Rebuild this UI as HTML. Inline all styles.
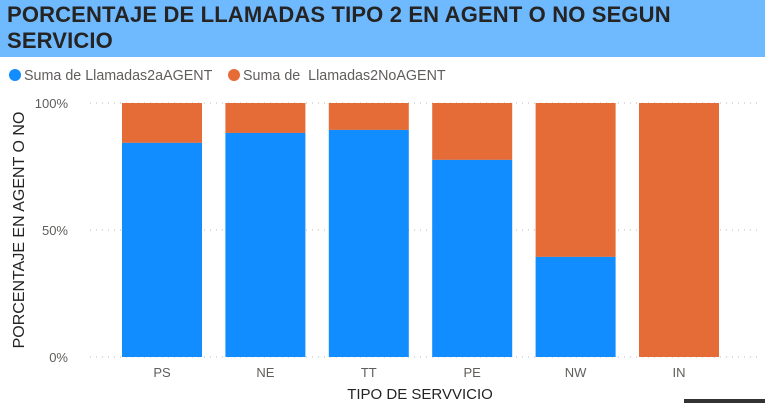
<!DOCTYPE html>
<html><head><meta charset="utf-8"><style>
body{margin:0;width:765px;height:403px;overflow:hidden;background:#fff;font-family:"Liberation Sans","DejaVu Sans",sans-serif}
#hdr{position:absolute;left:0;top:0;width:765px;height:57px;background:#6fb9ff}
#ttl{position:absolute;left:7px;top:2px;font-weight:bold;font-size:22px;line-height:26px;color:#252423;letter-spacing:0.15px}
svg{position:absolute;left:0;top:0}
</style></head><body>
<div id="hdr"><div id="ttl">PORCENTAJE DE LLAMADAS TIPO 2 EN AGENT O NO SEGUN<br>SERVICIO</div></div>
<svg width="765" height="403">
<g id="legend">
<circle cx="15" cy="75" r="6" fill="#118dff"/>
<text x="24" y="80" font-size="14.3" fill="#605e5c">Suma de Llamadas2aAGENT</text>
<circle cx="234" cy="75" r="6" fill="#e66c37"/>
<text x="243" y="80" font-size="14.3" fill="#605e5c" xml:space="preserve">Suma de  Llamadas2NoAGENT</text>
</g>
<g id="grid"></g><g id="bars"></g><g id="axes"></g>
<text x="24" y="230" font-size="16" fill="#252423" text-anchor="middle" transform="rotate(-90 24 230)">PORCENTAJE EN AGENT O NO</text>
<text x="420" y="399" font-size="15" fill="#252423" text-anchor="middle">TIPO DE SERVVICIO</text>
<rect x="684" y="399" width="81" height="4" fill="#333"/>
</svg>
<script>
const categories=["PS","NE","TT","PE","NW","IN"];
const agentPct=[84.3,88.2,89.4,77.6,39.4,0];
const yTicks=[0,50,100];
const yTickLabels=["0%","50%","100%"];
const ns="http://www.w3.org/2000/svg";
const top0=103,bot=357,left=110.3,step=103.4,bw=80;
const y=v=>bot-(bot-top0)*v/100;
const x=i=>left+step*i+step/2;
function mk(t,a,p){const e=document.createElementNS(ns,t);for(const k in a)e.setAttribute(k,a[k]);p.appendChild(e);return e;}
const g=document.getElementById('grid'),b=document.getElementById('bars'),ax=document.getElementById('axes');
yTicks.forEach((v,i)=>{
 const l=mk('line',{x1:90,x2:762,y1:y(v),y2:y(v),stroke:'#c8c6c4','stroke-dasharray':'1 5','stroke-width':1.3},g);
 
 
 const t=mk('text',{x:68,y:y(v)+5,'font-size':13,fill:'#605e5c','text-anchor':'end'},ax);
 t.textContent=yTickLabels[i];
 
 
});
categories.forEach((c,i)=>{
 const a=agentPct[i];
 const r1=mk('rect',{x:x(i)-bw/2,y:y(100),width:bw,height:y(a)-y(100),fill:'#e66c37'},b);
 
 
 const r2=mk('rect',{x:x(i)-bw/2,y:y(a),width:bw,height:bot-y(a),fill:'#118dff'},b);
 
 
 const t=mk('text',{x:x(i),y:377,'font-size':13,fill:'#605e5c','text-anchor':'middle'},ax);
 t.textContent=c;
 
 
});
</script>
</body></html>
